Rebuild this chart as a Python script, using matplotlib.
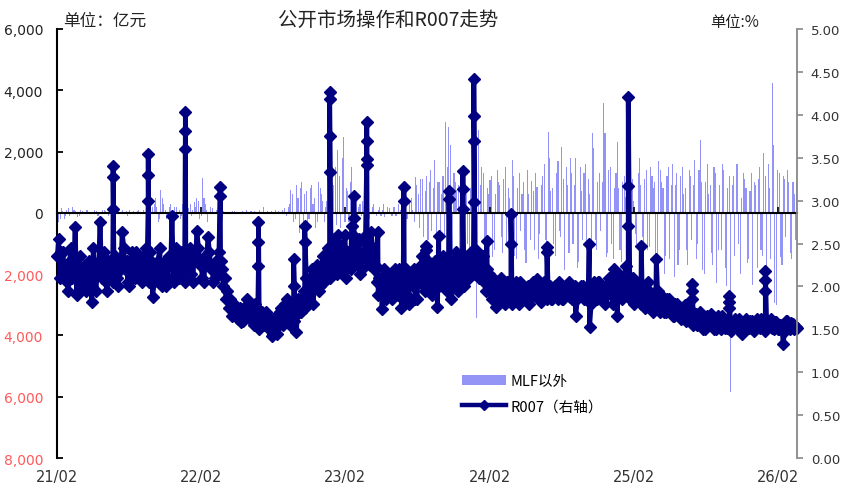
import matplotlib
matplotlib.use('Agg')
import matplotlib.pyplot as plt
import matplotlib.transforms as mtransforms
from matplotlib.patches import Patch
from matplotlib.lines import Line2D
import pandas as pd

plt.rcParams['font.family'] = ['Noto Sans CJK SC', 'DejaVu Sans']

# Friday readings, first one 2021-02-05; Tuesday readings three days before each
week_start = '2021-02-05'

r007_fri = [
    2.55, 2.40, 2.20, 2.05, 2.30, 2.10, 2.69, 2.20, 2.00, 2.15,
    1.95, 2.30, 1.82, 2.10, 2.25, 2.75, 2.20, 2.05, 2.30, 2.15,
    2.30, 2.10, 2.25, 2.63, 2.20, 2.05, 2.30, 2.15, 2.40, 2.20,
    2.05, 2.35, 2.20, 2.40, 1.88, 2.20, 2.30, 2.10, 2.25, 2.00,
    2.35, 2.82, 2.30, 2.15, 2.40, 2.20, 2.30, 2.30, 2.15, 2.40,
    2.65, 2.25, 2.10, 2.35, 2.58, 2.20, 2.05, 2.30, 2.40, 2.20,
    2.10, 1.95, 1.85, 1.75, 1.70, 1.62, 1.58, 1.75, 1.85, 1.70,
    1.60, 1.80, 1.65, 1.60, 1.55, 1.70, 1.50, 1.42, 1.60, 1.45,
    1.70, 1.55, 1.80, 1.65, 1.75, 1.60, 1.47, 1.70, 1.85, 1.75,
    1.90, 2.05, 1.80, 2.15, 1.95, 2.20, 2.05, 2.30, 2.10, 2.40,
    2.25, 2.60, 2.20, 2.45, 2.10, 2.35, 2.70, 2.25, 2.50, 2.15,
    2.40, 2.60, 2.30, 2.63, 2.20, 2.05, 2.10, 1.74, 2.00, 2.15,
    1.90, 2.10, 2.00, 2.20, 1.75, 2.05, 1.90, 2.15, 2.00, 1.85,
    2.10, 2.25, 2.00, 2.43, 2.10, 1.90, 2.30, 1.76, 2.15, 2.35,
    2.05, 2.20, 1.85, 2.30, 2.10, 2.35, 2.00, 2.25, 2.15, 2.40,
    2.20, 2.43, 2.10, 2.30, 2.05, 2.20, 1.95, 2.10, 1.76, 1.95,
    2.10, 1.85, 2.05, 1.90, 1.80, 2.00, 1.90, 2.05, 1.85, 1.95,
    1.80, 2.00, 1.90, 2.09, 1.85, 1.95, 1.88, 2.00, 1.85, 1.95,
    1.90, 2.05, 1.85, 1.95, 2.00, 1.88, 1.95, 1.66, 1.90, 2.00,
    1.85, 1.95, 1.53, 2.00, 1.90, 2.05, 1.95, 1.85, 2.00, 2.10,
    1.90, 2.20, 1.66, 1.95, 2.10, 2.24, 1.90, 2.05, 1.80, 2.00,
    1.85, 1.95, 1.75, 2.05, 1.85, 1.70, 1.95, 1.80, 1.90, 1.70,
    1.85, 1.75, 1.66, 1.80, 1.70, 1.62, 1.75, 1.60, 1.70, 1.58,
    1.65, 1.55, 1.70, 1.50, 1.62, 1.55, 1.68, 1.50, 1.60, 1.55,
    1.65, 1.52, 1.60, 1.48, 1.58, 1.55, 1.62, 1.45, 1.57, 1.52,
    1.60, 1.50, 1.58, 1.55, 1.62, 1.50, 1.60, 1.55, 1.52, 1.58,
    1.50, 1.55, 1.33, 1.60, 1.52, 1.57, 1.50, 1.52,
]

r007_tue = [
    2.35, 2.10, 2.40, 2.25, 1.95, 2.45, 2.30, 1.90, 2.35, 2.05,
    2.25, 2.05, 2.20, 2.45, 1.95, 2.30, 2.10, 2.40, 1.95, 2.25,
    2.05, 2.35, 2.00, 2.20, 2.45, 2.30, 2.00, 2.40, 2.10, 2.30,
    2.30, 2.10, 2.45, 2.05, 2.30, 2.05, 2.15, 2.45, 2.00, 2.30,
    2.10, 2.25, 2.05, 2.45, 2.10, 2.40, 2.05, 2.15, 2.45, 2.05,
    2.30, 2.45, 2.25, 2.05, 2.30, 2.40, 2.25, 2.10, 2.15, 2.30,
    2.00, 1.85, 1.75, 1.65, 1.80, 1.70, 1.75, 1.60, 1.65, 1.80,
    1.75, 1.55, 1.75, 1.50, 1.70, 1.55, 1.65, 1.55, 1.45, 1.65,
    1.55, 1.75, 1.60, 1.85, 1.55, 1.80, 1.65, 1.85, 1.70, 1.95,
    2.10, 1.85, 2.20, 2.00, 2.25, 2.00, 2.35, 2.10, 2.45, 2.20,
    2.55, 2.15, 2.50, 2.20, 2.60, 2.40, 2.20, 2.60, 2.30, 2.55,
    2.20, 2.35, 2.55, 2.25, 2.45, 2.25, 1.90, 2.05, 2.20, 1.85,
    2.15, 1.85, 2.20, 1.90, 2.10, 1.85, 2.20, 1.80, 2.10, 2.20,
    1.85, 2.05, 2.35, 1.95, 2.30, 2.20, 1.95, 2.25, 2.00, 2.10,
    2.30, 1.95, 2.25, 2.00, 2.40, 1.95, 2.30, 2.00, 2.35, 2.10,
    2.35, 2.15, 2.35, 2.10, 2.35, 1.95, 2.15, 1.85, 2.05, 1.85,
    1.90, 2.05, 1.80, 2.05, 1.95, 1.85, 2.05, 1.80, 2.00, 1.85,
    2.00, 1.85, 2.05, 1.90, 2.00, 1.82, 2.05, 1.85, 2.00, 1.85,
    2.00, 1.85, 2.00, 1.85, 1.90, 2.05, 1.85, 2.00, 1.85, 1.90,
    2.00, 1.85, 1.95, 1.80, 2.05, 1.85, 2.05, 1.95, 1.80, 1.95,
    2.10, 1.80, 2.05, 2.15, 1.85, 1.95, 2.15, 1.85, 2.10, 1.90,
    2.00, 1.80, 2.00, 1.80, 1.95, 1.85, 1.75, 1.95, 1.70, 1.85,
    1.70, 1.85, 1.75, 1.65, 1.80, 1.72, 1.65, 1.78, 1.62, 1.72,
    1.55, 1.68, 1.58, 1.65, 1.50, 1.65, 1.55, 1.62, 1.50, 1.65,
    1.50, 1.62, 1.52, 1.60, 1.50, 1.62, 1.50, 1.58, 1.48, 1.62,
    1.52, 1.60, 1.48, 1.62, 1.52, 1.60, 1.48, 1.60, 1.62, 1.50,
    1.58, 1.50, 1.55, 1.48, 1.60, 1.50, 1.56, 1.53,
]

# net OMO excluding MLF, 亿元
omo_fri = [
    -300, 150, -200, 100, -100, 200, 50, -150, 100, 0,
    100, -50, 0, 100, -100, 0, 100, 50, -100, 0,
    0, 50, -50, 100, 0, -100, 0, 50, 0, 100,
    -50, 0, 100, -100, 200, 500, -300, 750, 300, -200,
    200, -100, 200, 0, -200, 300, 100, 150, -100, 360,
    500, -200, 1140, 300, -300, 200, 0, 100, 0, 50,
    0, -50, 0, 50, 0, 0, -50, 0, 100, 0,
    0, 50, 0, -50, 200, 0, 0, 50, 0, -50,
    0, 100, 0, 200, 750, -300, 900, -650, 1000, 600,
    -400, 800, 300, -500, 1000, 600, -300, 400, 700, -200,
    1500, 2050, -500, 2480, 800, -300, 1500, 600, -200, 300,
    400, -200, 200, 0, 300, -100, 200, 100, -150, 200,
    0, 200, -100, 300, 0, 150, -200, 330, 100, 1170,
    600, 1100, -800, 1200, 1000, -600, 1730, 1000, -1200, 1200,
    2950, 2800, -900, 1300, 750, -1500, 1000, 1300, -1000, 800,
    -2000, -3420, 2700, 1500, -1500, 800, 1080, -1440, 600, 1000,
    -800, 1100, -1000, 500, 1730, -1400, 800, -600, 1000, -1630,
    600, 1050, -1200, 850, -700, 1200, -880, 2650, 700, -1000,
    1300, -600, 2150, -1860, 900, 1800, -1000, 1800, -1600, 700,
    1300, -1200, 600, 2600, -900, 1000, -600, 3590, -1440, 1400,
    -1000, 800, 2310, -1200, 1000, 520, -1300, 900, 400, -1000,
    1800, -800, 1100, -1200, 1500, 800, -1400, 1700, 1000, -2000,
    1200, -1500, 1600, 900, -1700, 1200, 600, -1200, 1400, -900,
    1730, -1000, 2380, -1860, 1000, 600, -1300, 1500, -2280, 900,
    1600, -1800, 800, -5840, 1200, 1600, -1000, 500, 1100, -1630,
    700, -2350, 900, 1100, -1200, 1950, -1860, 800, 4240, -2940,
    1400, -1440, 1200, -800, 1000, -1500, 600, 1000,
]

omo_tue = [
    100, -200, 50, -100, 150, -50, 100, 0, -100, 50,
    0, 100, -50, 0, 50, -100, 0, 100, 0, -50,
    50, 0, 100, -50, 0, 50, 100, -50, 0, 50,
    0, 100, -50, 150, 0, 300, 200, -200, 500, 100,
    -100, 300, 0, 200, 100, -100, 200, 0, 300, 100,
    200, 400, -100, 500, 100, 0, 150, -50, 100, 0,
    50, 0, 0, -50, 50, 0, 0, 50, 0, -50,
    50, 0, 0, 100, 0, -50, 50, 0, 0, 100,
    50, 0, 150, -100, 300, 600, -200, 500, 800, -300,
    700, -200, 900, 500, -300, 800, 400, 200, -300, 600,
    900, -400, 1200, 1800, -300, 700, 1000, -200, 500, 200,
    -100, 300, 100, -200, 200, 0, 100, -100, 300, 0,
    150, -100, 200, 0, 100, -150, 250, 0, 500, -300,
    900, -500, 1100, 700, -900, 1400, 800, -700, 1000, 600,
    -800, 1500, 2200, -1300, 1000, 900, -1100, 1500, 600, -1300,
    2200, 1200, -1800, 900, 1300, -900, 600, 1200, -1200, 1400,
    900, -1300, 1500, 800, -1000, 1200, -1500, 1300, 600, -1200,
    1400, -900, 700, 1300, -1500, 900, 1600, -1200, 1800, 800,
    -1400, 1700, -800, 1100, 1500, -1300, 1300, 900, -1800, 1500,
    -900, 1600, 1100, -1500, 2100, -1200, 1300, 1000, 2600, -1300,
    1500, -1500, 1300, 800, -1600, 1200, 700, -1500, 1100, -700,
    1300, 900, -1500, 1400, -1100, 1200, 1000, -1800, 1400, 800,
    -1400, 1500, 900, -2100, 1300, -1200, 1500, 800, -1700, 1200,
    900, -1500, 1400, 1000, -2000, 1600, 900, -1700, 1300, -1200,
    -1200, 1400, -2400, 1200, 900, -1400, 1600, -2000, 1300, 800,
    -1500, 1300, 1000, -1800, 1500, -1400, 1200, 1600, -1500, 2200,
    -3000, 1300, -1700, 1100, 1400, -1300, 1000, -900,
]

# period-end spikes of R007 (stacked daily readings)
spike_dates = ['2021-06-23', '2021-09-20', '2021-12-23', '2022-03-21', '2022-06-26',
               '2022-09-23', '2022-10-21', '2022-12-23', '2023-02-22', '2023-03-27',
               '2023-04-24', '2023-06-29', '2023-08-23', '2023-09-25', '2023-10-21',
               '2023-11-25', '2023-12-23', '2024-01-25', '2024-03-26', '2024-06-25',
               '2024-10-10', '2025-01-17', '2025-02-19', '2025-03-29', '2025-06-28',
               '2025-09-30', '2025-12-30']
spike_values = [[2.90, 3.27, 3.40], [3.00, 3.30, 3.54], [3.60, 3.81, 4.03], [3.05, 3.16],
                [2.24, 2.52, 2.75], [2.00, 2.32], [2.52, 2.70], [3.33, 3.75, 4.18, 4.27],
                [2.80, 3.05], [3.42, 3.48, 3.70, 3.92], [2.63], [3.00, 3.16], [2.47],
                [2.59], [3.02, 3.11], [2.90, 3.13, 3.35], [2.98, 3.69, 3.99, 4.42],
                [2.53], [2.50, 2.84], [2.40, 2.46], [2.49], [2.70, 3.17, 4.21], [2.47],
                [2.32], [1.85, 1.95, 2.03], [1.75, 1.82, 1.89], [1.95, 2.08, 2.18]]

tick_dates = ['2021-02-01', '2022-02-01', '2023-02-01', '2024-02-01', '2025-02-01', '2026-02-01']
tick_labels = ['21/02', '22/02', '23/02', '24/02', '25/02', '26/02']
left_ticks = [-8000, -6000, -4000, -2000, 0, 2000, 4000, 6000]
right_ticks = [0, 0.5, 1.0, 1.5, 2.0, 2.5, 3.0, 3.5, 4.0, 4.5, 5.0]

assert len(r007_fri) == len(r007_tue) == len(omo_fri) == len(omo_tue)
fridays = pd.date_range(week_start, periods=len(r007_fri), freq='7D')
tuesdays = fridays - pd.Timedelta(days=3)

rows = [(d, 0, v) for d, v in zip(fridays, r007_fri)]
rows += [(d, 0, v) for d, v in zip(tuesdays, r007_tue)]
for d, vals in zip(spike_dates, spike_values):
    for i, v in enumerate(vals):
        rows.append((pd.Timestamp(d), i, v))
rows.sort(key=lambda r: (r[0], r[1]))
r_dates = [r[0] for r in rows]
r_vals = [r[2] for r in rows]

bar_color = '#9494F6'

fig = plt.figure(figsize=(8.43, 4.89), dpi=100)
ax = fig.add_axes([0.0676, 0.0613, 0.8778, 0.8774])
ax2 = ax.twinx()

ax.bar(fridays, omo_fri, width=2.8, color=bar_color, zorder=1)
ax.bar(tuesdays, omo_tue, width=2.8, color=bar_color, zorder=1)
ax.set_ylim(-8000, 6000)
ax.set_xlim(pd.Timestamp('2021-02-01'), fridays[-1])
ax.set_yticks(left_ticks)
ax.set_yticklabels([f'{abs(v):,}' for v in left_ticks], family='DejaVu Sans', fontsize=10)
for lab, v in zip(ax.get_yticklabels(), left_ticks):
    lab.set_color('#FF5A5A' if v < 0 else '#222222')
ax.tick_params(axis='y', direction='in', length=4, width=1.3, pad=10)

# x axis drawn at zero, labels kept at the bottom
ax.spines['bottom'].set_position(('data', 0))
ax.spines['bottom'].set_linewidth(1.5)
ax.set_xticks(pd.to_datetime(tick_dates))
ax.tick_params(axis='x', direction='in', length=4, width=1.2, labelbottom=False)
trans = mtransforms.blended_transform_factory(ax.transData, ax.transAxes)
for d, lab in zip(pd.to_datetime(tick_dates), tick_labels):
    ax.text(d, -0.044, lab, transform=trans, ha='center', va='center',
            fontsize=10.5, color='#333333', family='DejaVu Sans')

ax.spines['top'].set_visible(False)
ax.spines['right'].set_visible(False)
ax.spines['left'].set_linewidth(1.5)

ax2.plot(r_dates, r_vals, color='#000080', lw=3.5, marker='D', ms=6.5, clip_on=False)
ax2.set_ylim(0, 5)
ax2.set_yticks(right_ticks)
ax2.set_yticklabels([f'{v:.2f}' for v in right_ticks], family='DejaVu Sans',
                    fontsize=9.5, color='#333333')
ax2.tick_params(axis='y', direction='out', length=4, width=1.2, color='#888888', pad=6)
for s in ['top', 'left', 'bottom']:
    ax2.spines[s].set_visible(False)
ax2.spines['right'].set_color('#888888')
ax2.spines['right'].set_linewidth(1.3)

handles = [Patch(facecolor=bar_color, edgecolor='none'),
           Line2D([], [], color='#000080', lw=3.2, marker='D', ms=5.5)]
ax2.legend(handles, ['MLF以外', 'R007（右轴）'], loc='center left',
           bbox_to_anchor=(0.53, 0.15), frameon=False, fontsize=10.5,
           handlelength=3.0, labelspacing=0.75, handletextpad=0.3)

fig.text(0.461, 0.959, '公开市场操作和R007走势', ha='center', va='center', fontsize=14, color='#222222')
fig.text(0.075, 0.957, '单位：亿元', ha='left', va='center', fontsize=12, color='#222222')
fig.text(0.842, 0.955, '单位:%', ha='left', va='center', fontsize=11, color='#222222')

fig.savefig('out.png', dpi=100)
